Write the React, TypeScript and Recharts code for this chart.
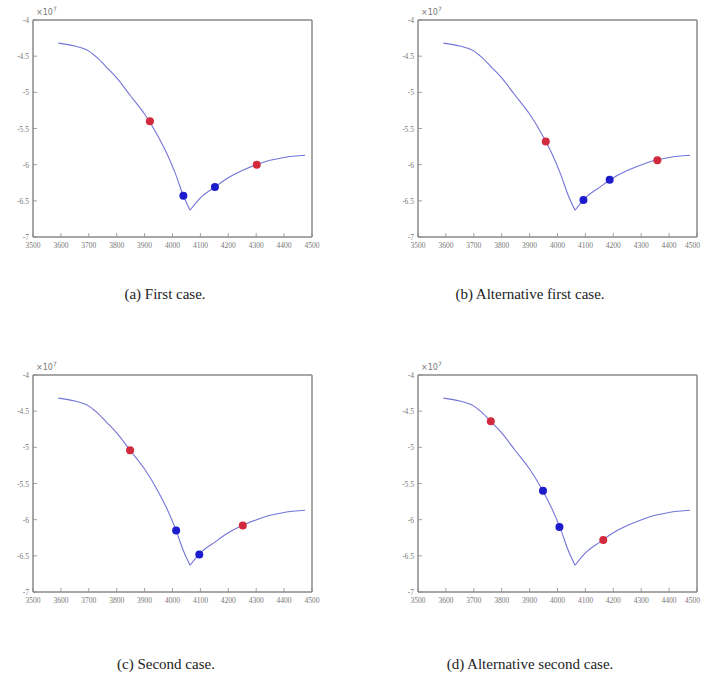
import React from 'react';
import { ComposedChart, Line, Scatter, XAxis, YAxis } from 'recharts';

// shared curve (x in axis units, y in units of the ×10⁷ label), split at the minimum
const leftX = [3591, 3650, 3692, 3730, 3763, 3800, 3848, 3900, 3950, 3979, 4010, 4039, 4063];
const leftY = [-4.32, -4.36, -4.41, -4.52, -4.65, -4.8, -5.04, -5.3, -5.62, -5.84, -6.12, -6.43, -6.63];
const rightX = [4063, 4100, 4152, 4200, 4250, 4302, 4350, 4400, 4475];
const rightY = [-6.63, -6.46, -6.31, -6.18, -6.08, -6.0, -5.94, -5.9, -5.87];

const xTicks = [3500, 3600, 3700, 3800, 3900, 4000, 4100, 4200, 4300, 4400, 4500];
const yTicks = [-7, -6.5, -6, -5.5, -5, -4.5, -4];

// marker points per case
const redA = [{ x: 3919, y: -5.4 }, { x: 4302, y: -6.0 }];
const blueA = [{ x: 4039, y: -6.43 }, { x: 4152, y: -6.31 }];
const redB = [{ x: 3958, y: -5.68 }, { x: 4358, y: -5.94 }];
const blueB = [{ x: 4093, y: -6.49 }, { x: 4187, y: -6.21 }];
const redC = [{ x: 3848, y: -5.04 }, { x: 4252, y: -6.08 }];
const blueC = [{ x: 4013, y: -6.15 }, { x: 4096, y: -6.48 }];
const redD = [{ x: 3761, y: -4.64 }, { x: 4164, y: -6.28 }];
const blueD = [{ x: 3948, y: -5.6 }, { x: 4007, y: -6.1 }];

const captions = ['(a) First case.', '(b) Alternative first case.', '(c) Second case.', '(d) Alternative second case.'];

const curveLeft = leftX.map((x, i) => ({ x, y: leftY[i] }));
const curveRight = rightX.map((x, i) => ({ x, y: rightY[i] }));

const AXIS = '#8a8a8a';
const LABEL = '#777777';

const BottomTick = ({ x, y, payload, edge }: any) => {
  const last = edge && payload.value === xTicks[xTicks.length - 1];
  return (
    <g>
      <line x1={x} y1={y} x2={x} y2={y - 4} stroke={AXIS} strokeWidth={0.8} />
      <text x={last ? x + 3 : x} y={y + 11} textAnchor={last ? 'end' : 'middle'} fontSize={7.5} fill={LABEL}>
        {payload.value}
      </text>
    </g>
  );
};
const TopTick = ({ x, y }: any) => (
  <line x1={x} y1={y} x2={x} y2={y + 4} stroke={AXIS} strokeWidth={0.8} />
);
const LeftTick = ({ x, y, payload }: any) => (
  <g>
    <line x1={x} y1={y} x2={x + 4} y2={y} stroke={AXIS} strokeWidth={0.8} />
    <text x={x - 4} y={y + 3} textAnchor="end" fontSize={7.5} fill={LABEL}>{payload.value}</text>
  </g>
);
const RightTick = ({ x, y }: any) => (
  <line x1={x} y1={y} x2={x - 4} y2={y} stroke={AXIS} strokeWidth={0.8} />
);

const dot = (color: string) => (p: any) => <circle cx={p.cx} cy={p.cy} r={4} fill={color} />;

interface PanelProps {
  left: number;
  top: number;
  red: { x: number; y: number }[];
  blue: { x: number; y: number }[];
  edge?: boolean;
}

// plot area is 279 x 217, placed at (left+33, top+20)
const Panel: React.FC<PanelProps> = ({ left, top, red, blue, edge }) => (
  <div style={{ position: 'absolute', left, top }}>
    <ComposedChart width={340} height={262} margin={{ top: 19, left: 32, right: 27, bottom: 24 }}>
      <XAxis xAxisId="b" dataKey="x" type="number" domain={[3500, 4500]} ticks={xTicks} height={1} interval={0}
        tickSize={0} tickMargin={0} stroke={AXIS} strokeWidth={1.5} tick={<BottomTick edge={edge} />} />
      <XAxis xAxisId="t" orientation="top" dataKey="x" type="number" domain={[3500, 4500]} ticks={xTicks} height={1}
        interval={0} tickSize={0} tickMargin={0} stroke={AXIS} strokeWidth={1.5} tick={<TopTick />} />
      <YAxis yAxisId="l" type="number" domain={[-7, -4]} ticks={yTicks} width={1} interval={0}
        tickSize={0} tickMargin={0} stroke={AXIS} strokeWidth={1.5} tick={<LeftTick />} />
      <YAxis yAxisId="r" orientation="right" type="number" domain={[-7, -4]} ticks={yTicks} width={1} interval={0}
        tickSize={0} tickMargin={0} stroke={AXIS} strokeWidth={1.5} tick={<RightTick />} />
      <Line xAxisId="b" yAxisId="l" data={curveLeft} dataKey="y" type="monotone" stroke="#7474d8"
        strokeWidth={1.1} dot={false} isAnimationActive={false} />
      <Line xAxisId="b" yAxisId="l" data={curveRight} dataKey="y" type="monotone" stroke="#7474d8"
        strokeWidth={1.1} dot={false} isAnimationActive={false} />
      <Scatter xAxisId="b" yAxisId="l" data={red} dataKey="y" shape={dot('#d02a3c')} isAnimationActive={false} />
      <Scatter xAxisId="b" yAxisId="l" data={blue} dataKey="y" shape={dot('#1c1ccc')} isAnimationActive={false} />
    </ComposedChart>
    <div style={{ position: 'absolute', left: 36, top: 5, fontSize: 8, color: LABEL, fontFamily: 'DejaVu Sans' }}>
      ×10<sup style={{ fontSize: 6 }}>7</sup>
    </div>
  </div>
);

const capStyle = (cx: number, cy: number): React.CSSProperties => ({
  position: 'absolute', left: cx - 150, top: cy - 9, width: 300, textAlign: 'center',
  fontFamily: '"Liberation Serif", serif', fontSize: 15, color: '#222',
});

export default function App() {
  return (
    <div style={{ position: 'absolute', left: 0, top: 0, width: 701, height: 677, background: '#fff', overflow: 'hidden' }}>
      <Panel left={0} top={0} red={redA} blue={blueA} />
      <Panel left={385} top={0} red={redB} blue={blueB} edge />
      <Panel left={0} top={355} red={redC} blue={blueC} />
      <Panel left={385} top={355} red={redD} blue={blueD} edge />
      <div style={capStyle(165, 295)}>{captions[0]}</div>
      <div style={capStyle(530, 295)}>{captions[1]}</div>
      <div style={capStyle(166, 665)}>{captions[2]}</div>
      <div style={capStyle(530, 665)}>{captions[3]}</div>
    </div>
  );
}
